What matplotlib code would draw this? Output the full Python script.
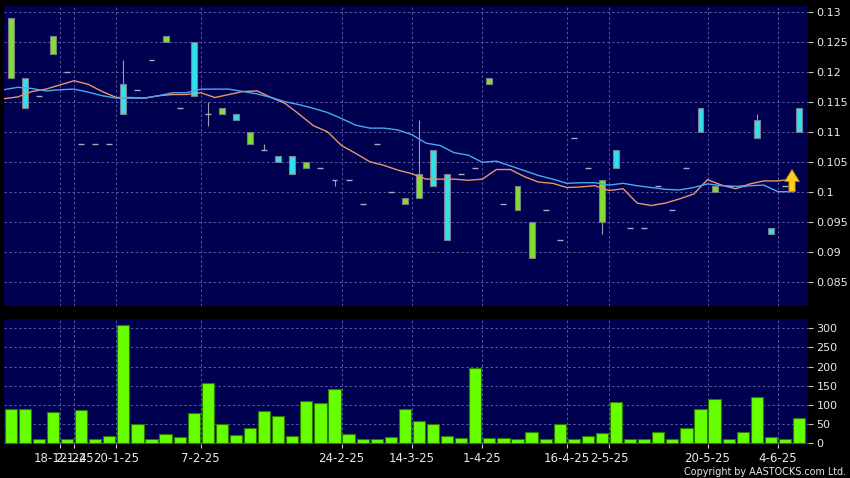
import numpy as np
import matplotlib.pyplot as plt
from matplotlib.ticker import FuncFormatter

# daily candles, oldest first
opens = [0.119, 0.119, 0.116, 0.123, 0.120, 0.108, 0.108, 0.108, 0.118, 0.117,
         0.122, 0.125, 0.114, 0.125, 0.113, 0.113, 0.113, 0.108, 0.107, 0.106,
         0.106, 0.104, 0.104, 0.102, 0.102, 0.098, 0.108, 0.100, 0.098, 0.099,
         0.107, 0.103, 0.103, 0.104, 0.118, 0.098, 0.097, 0.089, 0.097, 0.092,
         0.109, 0.104, 0.095, 0.107, 0.094, 0.094, 0.101, 0.097, 0.104, 0.114,
         0.100, 0.101, 0.101, 0.112, 0.094, 0.101, 0.114]
highs = [0.129, 0.119, 0.116, 0.126, 0.120, 0.108, 0.108, 0.108, 0.122, 0.117,
         0.122, 0.126, 0.114, 0.125, 0.115, 0.114, 0.113, 0.110, 0.108, 0.106,
         0.106, 0.105, 0.104, 0.102, 0.102, 0.098, 0.108, 0.100, 0.099, 0.112,
         0.107, 0.103, 0.103, 0.104, 0.119, 0.098, 0.101, 0.095, 0.097, 0.092,
         0.109, 0.104, 0.102, 0.107, 0.094, 0.094, 0.101, 0.097, 0.104, 0.114,
         0.101, 0.101, 0.101, 0.113, 0.094, 0.101, 0.114]
lows = [0.119, 0.114, 0.116, 0.123, 0.120, 0.108, 0.108, 0.108, 0.113, 0.117,
        0.122, 0.125, 0.114, 0.116, 0.111, 0.113, 0.112, 0.108, 0.107, 0.105,
        0.103, 0.104, 0.104, 0.101, 0.102, 0.098, 0.108, 0.100, 0.098, 0.099,
        0.101, 0.092, 0.103, 0.104, 0.118, 0.098, 0.097, 0.089, 0.097, 0.092,
        0.109, 0.104, 0.093, 0.104, 0.094, 0.094, 0.101, 0.097, 0.104, 0.110,
        0.100, 0.101, 0.101, 0.109, 0.093, 0.101, 0.110]
closes = [0.129, 0.114, 0.116, 0.126, 0.120, 0.108, 0.108, 0.108, 0.113, 0.117,
          0.122, 0.126, 0.114, 0.116, 0.113, 0.114, 0.112, 0.110, 0.107, 0.105,
          0.103, 0.105, 0.104, 0.102, 0.102, 0.098, 0.108, 0.100, 0.099, 0.103,
          0.101, 0.092, 0.103, 0.104, 0.119, 0.098, 0.101, 0.095, 0.097, 0.092,
          0.109, 0.104, 0.102, 0.104, 0.094, 0.094, 0.101, 0.097, 0.104, 0.110,
          0.101, 0.101, 0.101, 0.109, 0.093, 0.101, 0.110]
volume = [90, 90, 10, 81, 10, 87, 11, 20, 309, 50, 10, 23, 17, 79, 157, 50, 21, 40, 83, 70,
          20, 110, 105, 142, 24, 10, 10, 17, 90, 59, 50, 20, 14, 195, 13, 13, 10, 30, 10, 49,
          10, 20, 27, 108, 10, 10, 30, 10, 40, 90, 115, 10, 30, 121, 15, 10, 65]

# moving averages (orange = short, blue = long)
ma_short = [0.1156, 0.1159, 0.1168, 0.1172, 0.1179, 0.1186, 0.1180, 0.1168, 0.1158, 0.1158,
            0.1157, 0.1161, 0.1163, 0.1163, 0.1166, 0.1158, 0.1163, 0.1168, 0.1169, 0.1158,
            0.1148, 0.1130, 0.1111, 0.1101, 0.1078, 0.1065, 0.1051, 0.1045, 0.1037, 0.1031,
            0.1022, 0.1022, 0.1022, 0.1020, 0.1022, 0.1038, 0.1038, 0.1026, 0.1017, 0.1015,
            0.1008, 0.1009, 0.1011, 0.1003, 0.1006, 0.0982, 0.0978, 0.0982, 0.0989, 0.0997,
            0.1021, 0.1012, 0.1006, 0.1014, 0.1019, 0.1019, 0.1022]
ma_long = [0.1171, 0.1175, 0.1173, 0.1169, 0.1171, 0.1172, 0.1167, 0.1161, 0.1157, 0.1157,
           0.1157, 0.1161, 0.1166, 0.1166, 0.1172, 0.1172, 0.1172, 0.1168, 0.1164, 0.1158,
           0.1151, 0.1146, 0.1140, 0.1133, 0.1123, 0.1112, 0.1107, 0.1107, 0.1104, 0.1096,
           0.1082, 0.1078, 0.1066, 0.1062, 0.1050, 0.1052, 0.1044, 0.1036, 0.1028, 0.1022,
           0.1015, 0.1016, 0.1016, 0.1012, 0.1015, 0.1011, 0.1008, 0.1005, 0.1004, 0.1008,
           0.1014, 0.1011, 0.1010, 0.1011, 0.1012, 0.1001, 0.1001]

tick_bars = [4, 5, 8, 14, 24, 29, 34, 40, 43, 50, 55]
tick_labels = ["18-12-24", "2-1-25", "20-1-25", "7-2-25", "24-2-25", "14-3-25",
               "1-4-25", "16-4-25", "2-5-25", "20-5-25", "4-6-25"]

o = np.array(opens)
h = np.array(highs)
l = np.array(lows)
c = np.array(closes)
x = np.arange(len(o))
ma_x = x - 0.5
grid_x = np.array(tick_bars) - 0.5

bg = "#000050"
grid_kw = dict(color="#5a5aa0", linestyle=(0, (2.5, 2.5)), linewidth=0.7)
txt = "#e8e8e8"

fig = plt.figure(figsize=(8.5, 4.78), dpi=100, facecolor="black")
ax = fig.add_axes([0.0047, 0.3598, 0.9453, 0.6276], facecolor=bg)
axv = fig.add_axes([0.0047, 0.0711, 0.9453, 0.2609], facecolor=bg)

# price panel
up = c > o
down = c < o
flat = c == o
bw = 0.42
ax.vlines(x, l, h, color="#9a9ab0", linewidth=0.8, zorder=2)
ax.bar(x[up], (c - o)[up], bottom=o[up], width=bw, color="#80e02a",
       edgecolor="#7c7c8c", linewidth=0.8, zorder=3)
ax.bar(x[down], (o - c)[down], bottom=c[down], width=bw, color="#2ee0f0",
       edgecolor="#7c7c8c", linewidth=0.8, zorder=3)
ax.hlines(o[flat], x[flat] - bw / 2, x[flat] + bw / 2, color="#a8a8c0",
          linewidth=1.0, zorder=3)

ax.plot(ma_x, ma_short, color="#e8956a", linewidth=1.0, zorder=4)
ax.plot(ma_x, ma_long, color="#48a8f0", linewidth=1.0, zorder=4)

ax.annotate("", xy=(ma_x[-1], ma_long[-1] + 0.0037), xytext=(ma_x[-1], ma_long[-1]),
            arrowprops=dict(arrowstyle="simple,head_length=0.86,head_width=1.06,tail_width=0.45",
                            fc="#ffcc22", ec="#b88000", lw=0.6, shrinkA=0, shrinkB=0),
            zorder=5)

ax.set_xlim(-0.48, 56.6)
ax.set_ylim(0.08105, 0.13105)
ax.set_yticks(np.arange(0.085, 0.1301, 0.005))
ax.yaxis.set_major_formatter(FuncFormatter(lambda v, p: "%g" % round(v, 4)))
ax.set_xticks(grid_x)
ax.tick_params(axis="x", bottom=False, labelbottom=False)

# volume panel
axv.bar(x, volume, width=0.87, color="#66ff00", edgecolor="#2c7a00", linewidth=0.8, zorder=3)
axv.set_xlim(-0.48, 56.6)
axv.set_ylim(-2, 323)
axv.set_yticks(range(0, 301, 50))
axv.set_xticks(grid_x)
axv.set_xticklabels(tick_labels)

for a in (ax, axv):
    a.yaxis.tick_right()
    a.grid(True, zorder=0, **grid_kw)
    a.set_axisbelow(True)
    a.tick_params(axis="y", colors="#c8c8c8", labelcolor=txt, length=3.5, width=0.8,
                  pad=3, labelsize=8)
    for s in a.spines.values():
        s.set_visible(False)
axv.tick_params(axis="x", colors="#c8c8c8", labelcolor=txt, length=3, width=0.8,
                pad=3, labelsize=8.5)

fig.text(0.995, 0.013, "Copyright by AASTOCKS.com Ltd.", ha="right", va="center",
         fontsize=6.9, color=txt)

fig.savefig("out.png", dpi=100, facecolor="black")
